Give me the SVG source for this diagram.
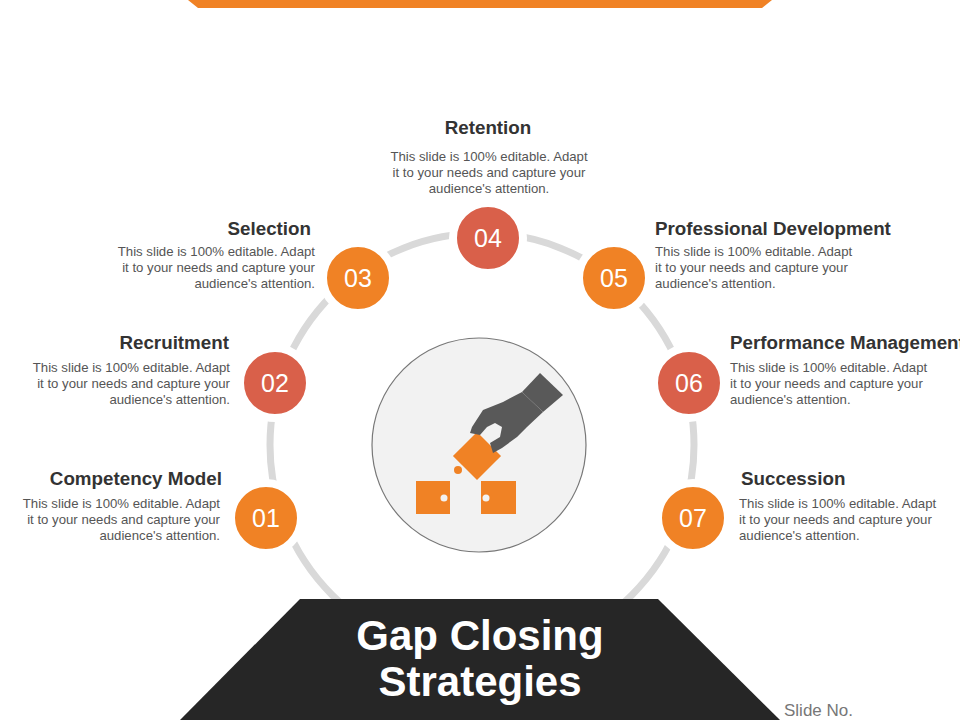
<svg xmlns="http://www.w3.org/2000/svg" width="960" height="720" viewBox="0 0 960 720">
<style>
.t{font-family:"Liberation Sans",Arial,sans-serif;font-weight:bold;font-size:18.8px;fill:#333}
.b{font-family:"Liberation Sans",Arial,sans-serif;font-size:13.2px;fill:#555}
.n{font-family:"Liberation Sans",Arial,sans-serif;font-size:25px;fill:#fff;text-anchor:middle}
.o{fill:#f08225;stroke:#fff;stroke-width:8}
.r{fill:#d9604a;stroke:#fff;stroke-width:8}
.p{fill:#f08225}
</style>
<rect width="960" height="720" fill="#fff"/>
<polygon points="188,0 772,0 762,8 198,8" fill="#f08225"/>
<g id="connectors">
<circle cx="482" cy="445" r="212" fill="none" stroke="#d9d9d9" stroke-width="7"/>
</g>
<g id="center">
<circle cx="479" cy="445" r="107" fill="#f2f2f2" stroke="#777" stroke-width="1.2"/>
<rect x="416" y="481" width="34" height="33" class="p"/>
<rect x="481" y="481" width="35" height="33" class="p"/>
<circle cx="444" cy="498" r="3.5" fill="#f2f2f2"/>
<circle cx="486" cy="498" r="3.5" fill="#f2f2f2"/>
<rect x="460" y="439" width="34" height="34" class="p" transform="rotate(45 477 456)"/>
<circle cx="458" cy="470" r="4" class="p"/>
<polygon points="543,412 522,392 503,402 483,410 472,427 470,433 480,435 487,427 495,423 502,427 500,437 490,443 493,453 502,448 517,437 527,427" fill="#595959"/>
<polygon points="522,392 540,373 563,395 543,412" fill="#595959"/>
</g>
<g id="n01"><circle cx="266" cy="518" r="35" class="o"/><text x="266" y="527" class="n">01</text>
<text x="222" y="485" class="t" text-anchor="end">Competency Model</text>
<text class="b" text-anchor="end"><tspan x="220" y="508">This slide is 100% editable. Adapt</tspan><tspan x="220" y="524">it to your needs and capture your</tspan><tspan x="220" y="540">audience's attention.</tspan></text></g>
<g id="n02"><circle cx="275" cy="383" r="35" class="r"/><text x="275" y="392" class="n">02</text>
<text x="229" y="349" class="t" text-anchor="end">Recruitment</text>
<text class="b" text-anchor="end"><tspan x="230" y="372">This slide is 100% editable. Adapt</tspan><tspan x="230" y="388">it to your needs and capture your</tspan><tspan x="230" y="404">audience's attention.</tspan></text></g>
<g id="n03"><circle cx="358" cy="278" r="35" class="o"/><text x="358" y="287" class="n">03</text>
<text x="311" y="235" class="t" text-anchor="end">Selection</text>
<text class="b" text-anchor="end"><tspan x="315" y="256">This slide is 100% editable. Adapt</tspan><tspan x="315" y="272">it to your needs and capture your</tspan><tspan x="315" y="288">audience's attention.</tspan></text></g>
<g id="n04"><circle cx="488" cy="238" r="35" class="r"/><text x="488" y="247" class="n">04</text>
<text x="488" y="134" class="t" text-anchor="middle">Retention</text>
<text class="b" text-anchor="middle"><tspan x="489" y="161">This slide is 100% editable. Adapt</tspan><tspan x="489" y="177">it to your needs and capture your</tspan><tspan x="489" y="193">audience's attention.</tspan></text></g>
<g id="n05"><circle cx="614" cy="278" r="35" class="o"/><text x="614" y="287" class="n">05</text>
<text x="655" y="235" class="t">Professional Development</text>
<text class="b"><tspan x="655" y="256">This slide is 100% editable. Adapt</tspan><tspan x="655" y="272">it to your needs and capture your</tspan><tspan x="655" y="288">audience's attention.</tspan></text></g>
<g id="n06"><circle cx="689" cy="383" r="35" class="r"/><text x="689" y="392" class="n">06</text>
<text x="730" y="349" class="t">Performance Management</text>
<text class="b"><tspan x="730" y="372">This slide is 100% editable. Adapt</tspan><tspan x="730" y="388">it to your needs and capture your</tspan><tspan x="730" y="404">audience's attention.</tspan></text></g>
<g id="n07"><circle cx="693" cy="518" r="35" class="o"/><text x="693" y="527" class="n">07</text>
<text x="741" y="485" class="t">Succession</text>
<text class="b"><tspan x="739" y="508">This slide is 100% editable. Adapt</tspan><tspan x="739" y="524">it to your needs and capture your</tspan><tspan x="739" y="540">audience's attention.</tspan></text></g>
<g id="title">
<polygon points="300,599 658,599 780,720 180,720" fill="#262626"/>
<text x="480" y="650" text-anchor="middle" style="font-family:'Liberation Sans',Arial,sans-serif;font-weight:bold;font-size:42px;fill:#fff">Gap Closing</text>
<text x="480" y="696" text-anchor="middle" style="font-family:'Liberation Sans',Arial,sans-serif;font-weight:bold;font-size:42px;fill:#fff">Strategies</text>
</g>
<text x="784" y="716" style="font-family:'Liberation Sans',Arial,sans-serif;font-size:17px;fill:#777">Slide No.</text>
</svg>
